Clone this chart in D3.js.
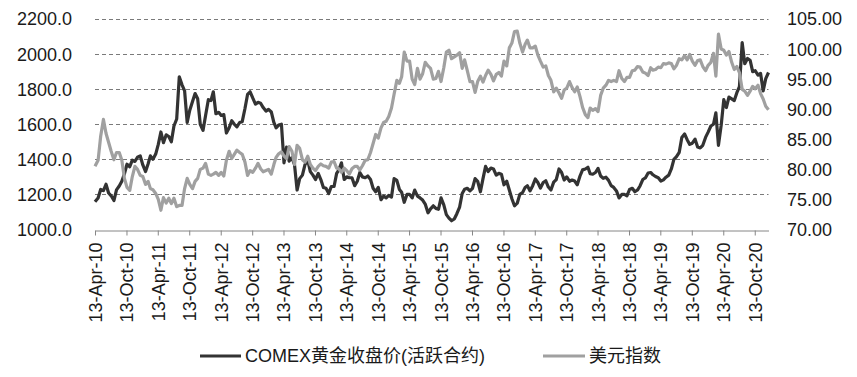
<!DOCTYPE html>
<html>
<head>
<meta charset="utf-8">
<script src="https://cdn.jsdelivr.net/npm/d3@7"></script>
<style>
  html, body { margin: 0; padding: 0; background: #fff; }
  svg { display: block; font-family: "Liberation Sans", Arial, "Noto Sans CJK SC", sans-serif; }
</style>
</head>
<body>
<svg id="chart" width="857" height="377"></svg>
<script>
// COMEX gold close (active contract), semi-monthly samples (1st / 16th of month)
const gold2010 = [1158, 1180, 1228, 1222, 1258, 1208, 1192, 1165, 1226, 1248, 1275, 1318, 1372, 1358, 1395, 1388, 1412];
const gold2011 = [1420, 1368, 1330, 1375, 1420, 1400, 1430, 1485, 1556, 1495, 1540, 1530, 1500, 1590, 1630, 1870, 1825, 1790, 1610, 1680, 1730, 1775, 1745, 1600];
const gold2012 = [1565, 1650, 1740, 1735, 1785, 1660, 1668, 1650, 1655, 1550, 1580, 1620, 1600, 1585, 1610, 1615, 1690, 1770, 1785, 1750, 1715, 1725, 1720, 1695];
const gold2013 = [1675, 1685, 1670, 1610, 1580, 1595, 1600, 1380, 1470, 1390, 1410, 1370, 1225, 1290, 1310, 1370, 1395, 1330, 1310, 1285, 1320, 1285, 1240, 1235];
const gold2014 = [1205, 1245, 1245, 1320, 1340, 1380, 1285, 1300, 1295, 1295, 1250, 1275, 1325, 1300, 1295, 1305, 1285, 1235, 1215, 1240, 1170, 1190, 1180, 1195];
const gold2015 = [1185, 1290, 1280, 1228, 1212, 1155, 1200, 1200, 1180, 1225, 1190, 1180, 1168, 1145, 1095, 1118, 1135, 1120, 1115, 1180, 1140, 1085, 1065, 1050];
const gold2016 = [1060, 1090, 1128, 1205, 1230, 1235, 1220, 1235, 1290, 1275, 1215, 1290, 1360, 1330, 1350, 1345, 1310, 1320, 1315, 1255, 1275, 1225, 1175, 1135];
const gold2017 = [1150, 1200, 1210, 1240, 1250, 1220, 1250, 1288, 1268, 1236, 1268, 1278, 1242, 1225, 1270, 1285, 1345, 1325, 1282, 1300, 1275, 1282, 1276, 1255];
const gold2018 = [1305, 1340, 1345, 1355, 1318, 1315, 1325, 1348, 1305, 1292, 1298, 1280, 1250, 1240, 1220, 1180, 1200, 1200, 1192, 1228, 1235, 1215, 1225, 1248];
const gold2019 = [1285, 1294, 1322, 1325, 1312, 1302, 1295, 1276, 1283, 1298, 1310, 1345, 1400, 1415, 1440, 1525, 1545, 1512, 1485, 1492, 1515, 1470, 1465, 1480];
const gold2020 = [1525, 1555, 1590, 1600, 1665, 1480, 1595, 1740, 1695, 1755, 1745, 1735, 1780, 1815, 2065, 1945, 1975, 1965, 1900, 1905, 1880, 1890, 1790, 1860, 1895];

// US dollar index, same sampling
const dxy2010 = [80.5, 81.5, 85.5, 88.3, 86.0, 84.5, 83.0, 81.6, 82.8, 82.8, 81.5, 78.5, 77.0, 76.5, 78.8, 80.5, 80.0];
const dxy2011 = [79.0, 78.8, 77.5, 78.0, 76.8, 76.6, 76.0, 75.0, 73.2, 75.3, 74.4, 75.2, 74.3, 75.2, 73.8, 74.0, 74.0, 76.8, 78.5, 77.5, 76.8, 78.0, 78.5, 80.0];
const dxy2012 = [80.2, 81.0, 79.2, 79.0, 79.2, 79.5, 79.0, 79.5, 78.9, 81.5, 83.0, 81.8, 82.5, 83.2, 82.8, 82.5, 81.2, 79.0, 79.8, 79.5, 80.2, 81.0, 80.1, 79.6];
const dxy2013 = [79.8, 80.0, 79.2, 80.8, 82.0, 82.6, 82.9, 82.2, 81.8, 83.8, 83.0, 80.8, 84.0, 83.5, 81.6, 81.2, 82.2, 80.8, 80.2, 79.8, 80.5, 80.9, 80.6, 80.5];
const dxy2014 = [80.2, 81.2, 81.3, 80.2, 80.1, 79.5, 80.2, 79.8, 79.2, 80.1, 80.5, 80.5, 79.9, 80.6, 81.5, 81.6, 82.8, 84.3, 85.8, 85.2, 86.9, 87.8, 88.0, 88.8];
const dxy2015 = [90.2, 92.5, 94.8, 94.3, 95.4, 99.5, 98.0, 98.0, 95.0, 94.1, 96.8, 95.0, 95.9, 97.8, 97.2, 96.8, 95.0, 95.1, 96.3, 94.6, 96.9, 99.5, 99.8, 98.4];
const dxy2016 = [98.7, 99.0, 99.4, 96.8, 98.2, 96.5, 94.6, 94.6, 92.8, 94.6, 95.5, 94.5, 95.6, 96.5, 95.8, 94.7, 95.8, 96.1, 95.5, 98.0, 97.2, 100.2, 101.0, 102.9];
const dxy2017 = [103.0, 101.0, 99.5, 100.8, 101.5, 100.2, 100.2, 100.5, 99.0, 98.0, 97.0, 97.2, 95.6, 94.8, 92.9, 93.5, 92.7, 91.8, 93.2, 93.5, 94.6, 93.6, 92.9, 93.7];
const dxy2018 = [92.1, 90.3, 89.1, 88.6, 90.2, 89.8, 90.1, 89.6, 92.3, 93.5, 94.0, 94.8, 94.6, 94.8, 94.6, 96.4, 95.1, 94.6, 95.3, 95.3, 96.4, 96.5, 97.1, 97.0];
const dxy2019 = [96.2, 96.0, 95.6, 96.9, 96.5, 96.6, 97.0, 96.9, 97.6, 97.5, 97.7, 97.6, 96.7, 97.3, 98.4, 98.2, 98.9, 98.2, 99.1, 98.0, 97.3, 98.1, 98.2, 97.1];
const dxy2020 = [96.4, 97.3, 97.8, 99.3, 95.5, 102.5, 100.0, 99.8, 99.0, 99.6, 97.8, 96.6, 97.1, 96.1, 93.3, 93.0, 92.3, 93.0, 93.8, 93.4, 94.0, 92.6, 91.7, 90.5, 89.9];

const years = [2010, 2011, 2012, 2013, 2014, 2015, 2016, 2017, 2018, 2019, 2020];
const goldYears = [gold2010, gold2011, gold2012, gold2013, gold2014, gold2015, gold2016, gold2017, gold2018, gold2019, gold2020];
const dxyYears = [dxy2010, dxy2011, dxy2012, dxy2013, dxy2014, dxy2015, dxy2016, dxy2017, dxy2018, dxy2019, dxy2020];

const goldTicks = [1000, 1200, 1400, 1600, 1800, 2000, 2200];
const dxyTicks = [70, 75, 80, 85, 90, 95, 100, 105];
const tickDates = [];
for (let y = 2010; y <= 2020; y++) {
  tickDates.push(new Date(y, 3, 13), new Date(y, 9, 13));
}
const legendNames = ["COMEX黄金收盘价(活跃合约)", "美元指数"];

const startDate = new Date(2010, 3, 13);
const endDate = new Date(2021, 0, 1);

// turn per-year arrays into {date, value} points (2010 starts in mid-April)
function toPoints(arrays) {
  const pts = [];
  arrays.forEach((arr, yi) => {
    const first = yi === 0 ? 7 : 0;
    arr.forEach((v, i) => {
      const k = i + first;
      let date = new Date(years[yi], Math.floor(k / 2), k % 2 ? 16 : 1);
      if (yi === 0 && i === 0) date = startDate;
      pts.push({ date, value: v });
    });
  });
  return pts;
}
const goldData = toPoints(goldYears);
const dxyData = toPoints(dxyYears);

const svg = d3.select("#chart");
const plotLeft = 95, plotRight = 768.5, plotTop = 19, plotBottom = 229.5;

const x = d3.scaleTime().domain([startDate, endDate]).range([plotLeft, plotRight]);
const yL = d3.scaleLinear().domain([1000, 2200]).range([plotBottom, plotTop]);
const yR = d3.scaleLinear().domain([70, 105]).range([plotBottom, plotTop]);

// dashed gridlines
svg.append("g")
  .selectAll("line")
  .data(goldTicks.slice(1))
  .enter()
  .append("line")
  .attr("x1", plotLeft)
  .attr("x2", plotRight)
  .attr("y1", d => Math.round(yL(d)) + 0.5)
  .attr("y2", d => Math.round(yL(d)) + 0.5)
  .attr("stroke", "#7a7a7a")
  .attr("stroke-width", 1)
  .attr("stroke-dasharray", "4,3");

// bottom axis
const xAxis = svg.append("g")
  .attr("transform", `translate(0,${Math.round(plotBottom) + 0.5})`)
  .call(d3.axisBottom(x).tickValues(tickDates).tickSize(5).tickSizeOuter(0).tickFormat(d3.timeFormat("%d-%b-%y")));
xAxis.select(".domain").attr("stroke", "#868686");
xAxis.selectAll(".tick line").attr("stroke", "#868686");
xAxis.selectAll(".tick text")
  .attr("transform", "rotate(-90)")
  .attr("text-anchor", "end")
  .attr("x", -12)
  .attr("y", 0)
  .attr("dy", "0.36em")
  .attr("fill", "#1a1a1a")
  .style("font-size", "18px")
  .style("font-family", "'Liberation Sans', Arial, sans-serif");

// left axis labels
svg.append("g")
  .selectAll("text")
  .data(goldTicks)
  .enter()
  .append("text")
  .attr("x", 72)
  .attr("y", d => yL(d))
  .attr("dy", "0.36em")
  .attr("text-anchor", "end")
  .attr("fill", "#1a1a1a")
  .style("font-size", "18px")
  .text(d => d.toFixed(1));

// right axis labels
svg.append("g")
  .selectAll("text")
  .data(dxyTicks)
  .enter()
  .append("text")
  .attr("x", 787)
  .attr("y", d => yR(d))
  .attr("dy", "0.36em")
  .attr("text-anchor", "start")
  .attr("fill", "#1a1a1a")
  .style("font-size", "18px")
  .text(d => d.toFixed(2));

// lines (secondary-axis series drawn last, on top)
const goldLine = d3.line().x(d => x(d.date)).y(d => yL(d.value));
const dxyLine = d3.line().x(d => x(d.date)).y(d => yR(d.value));

svg.append("path")
  .datum(goldData)
  .attr("d", goldLine)
  .attr("fill", "none")
  .attr("stroke", "#333333")
  .attr("stroke-width", 3.2)
  .attr("stroke-linejoin", "round");

svg.append("path")
  .datum(dxyData)
  .attr("d", dxyLine)
  .attr("fill", "none")
  .attr("stroke", "#a0a0a0")
  .attr("stroke-width", 3.2)
  .attr("stroke-linejoin", "round");

// legend
const legend = svg.append("g");
const legendItems = [
  { name: legendNames[0], color: "#333333", x1: 200, x2: 241, tx: 245 },
  { name: legendNames[1], color: "#a0a0a0", x1: 543, x2: 585, tx: 589 }
];
legendItems.forEach(item => {
  legend.append("line")
    .attr("x1", item.x1)
    .attr("x2", item.x2)
    .attr("y1", 356)
    .attr("y2", 356)
    .attr("stroke", item.color)
    .attr("stroke-width", 3);
  legend.append("text")
    .attr("x", item.tx)
    .attr("y", 356)
    .attr("dy", "0.36em")
    .attr("fill", "#1a1a1a")
    .style("font-size", "18px")
    .text(item.name);
});
</script>
</body>
</html>
